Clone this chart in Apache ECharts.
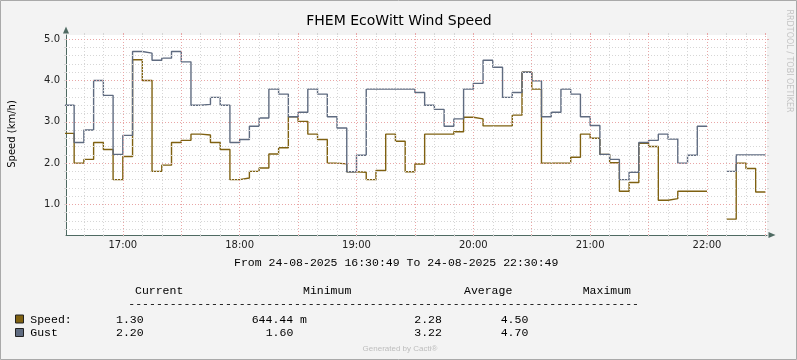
<!DOCTYPE html>
<html><head><meta charset="utf-8">
<script src="https://cdn.jsdelivr.net/npm/echarts@6/dist/echarts.min.js"></script>
<style>html,body{margin:0;padding:0;background:#f3f3f3}#c{width:797px;height:360px}</style>
</head><body><div id="c"></div>
<script>
// ---- data (5-minute intervals, value held over each interval) ----
const slotStarts = ["16:30","16:35","16:40","16:45","16:50","16:55","17:00","17:05","17:10","17:15","17:20","17:25",
  "17:30","17:35","17:40","17:45","17:50","17:55","18:00","18:05","18:10","18:15","18:20","18:25",
  "18:30","18:35","18:40","18:45","18:50","18:55","19:00","19:05","19:10","19:15","19:20","19:25",
  "19:30","19:35","19:40","19:45","19:50","19:55","20:00","20:05","20:10","20:15","20:20","20:25",
  "20:30","20:35","20:40","20:45","20:50","20:55","21:00","21:05","21:10","21:15","21:20","21:25",
  "21:30","21:35","21:40","21:45","21:50","21:55","22:00","22:05","22:10","22:15","22:20","22:25"];
const lastSlotEnd = "22:30";
const speed = [2.72,2.00,2.09,2.50,2.33,1.60,2.16,4.50,4.00,1.80,1.95,2.50,
  2.55,2.70,2.68,2.50,2.33,1.60,1.64,1.80,1.88,2.22,2.37,3.12,
  3.01,2.70,2.57,2.00,1.98,1.79,1.78,1.60,1.82,2.70,2.53,1.79,
  1.98,2.70,2.70,2.70,2.76,3.11,3.07,2.90,2.90,2.90,3.16,4.20,
  3.79,2.00,2.00,2.00,2.14,2.70,2.60,2.21,2.01,1.32,1.53,2.48,
  2.40,1.10,1.14,1.32,1.32,1.32,null,null,0.644,2.00,1.87,1.30];
const gust = [3.40,2.50,2.80,4.00,3.64,2.21,2.67,4.70,4.66,4.49,4.54,4.70,
  4.45,3.40,3.42,3.59,3.40,2.50,2.57,2.89,3.09,3.79,3.67,3.12,
  3.23,3.79,3.67,3.12,2.85,1.79,2.19,3.79,3.79,3.79,3.79,3.79,
  3.71,3.40,3.30,2.89,3.07,3.79,3.93,4.49,4.32,3.59,3.71,4.20,
  3.99,3.12,3.23,3.79,3.67,3.12,2.91,2.21,2.09,1.60,1.78,2.50,
  2.55,2.70,2.58,2.00,2.19,2.89,null,null,1.80,2.20,2.20,2.20];
const seriesNames = ["Speed:", "Gust"];
const xStart = "16:30:49", xEnd = "22:30:49";
const xTickLabels = ["17:00","18:00","19:00","20:00","21:00","22:00"];
const xMajorGrid = ["17:00","17:30","18:00","18:30","19:00","19:30","20:00","20:30","21:00","21:30","22:00","22:30"];
const xMinorGrid = ["16:40","16:50","17:00","17:10","17:20","17:30","17:40","17:50","18:00","18:10","18:20","18:30","18:40","18:50",
  "19:00","19:10","19:20","19:30","19:40","19:50","20:00","20:10","20:20","20:30","20:40","20:50","21:00","21:10","21:20","21:30",
  "21:40","21:50","22:00","22:10","22:20","22:30"];
const yTickLabels = ["1.0","2.0","3.0","4.0","5.0"];
const yMinorGrid = [0.4,0.6,0.8,1.0,1.2,1.4,1.6,1.8,2.0,2.2,2.4,2.6,2.8,3.0,3.2,3.4,3.6,3.8,4.0,4.2,4.4,4.6,4.8,5.0];
const yMin = 0.26, yMax = 5.1;
const legendHeader = ["Current","Minimum","Average","Maximum"];
const speedStats = ["1.30","644.44 m","2.28","4.50"];
const gustStats = ["2.20","1.60","3.22","4.70"];
const titleText = "FHEM EcoWitt Wind Speed";
const yAxisTitle = "Speed (km/h)";
const rangeText = "From 24-08-2025 16:30:49 To 24-08-2025 22:30:49";

// ---- helpers ----
function toMin(s){const p=s.split(':').map(Number);return p[0]*60+p[1]+(p[2]||0)/60;}
function stepData(vals){
  const out=[];
  for(let i=0;i<vals.length;i++){
    const t0=toMin(slotStarts[i]);
    const t1=toMin(i+1<slotStarts.length?slotStarts[i+1]:lastSlotEnd);
    if(vals[i]==null){out.push([t0,null]);continue;}
    out.push([t0,vals[i]]);out.push([t1,vals[i]]);
  }
  return out;
}
const C_SPEED="#7f6111", C_GUST="#5f6b80";
const C_AXIS="#4f6a62", C_MINOR="#d6d6d6", C_MAJOR="#e9a6a6";
const MONO='"Liberation Mono","DejaVu Sans Mono",monospace';
const SANS='"DejaVu Sans",sans-serif';
const xMin=toMin(xStart), xMax=toMin(xEnd);

function hiddenX(pos, vals, color){
  return {type:'value',min:xMin,max:xMax,position:pos,axisLine:{show:false},
    axisLabel:{show:false},splitLine:{show:false},
    axisTick:{show:true,customValues:vals.map(toMin),length:2,lineStyle:{color:color,width:1}}};
}
function hiddenY(pos, vals, color){
  return {type:'value',min:yMin,max:yMax,position:pos,axisLine:{show:false},
    axisLabel:{show:false},splitLine:{show:false},
    axisTick:{show:true,customValues:vals,length:2,lineStyle:{color:color,width:1}}};
}

const gridLines=[];
xMinorGrid.forEach(t=>gridLines.push({xAxis:toMin(t),lineStyle:{color:C_MINOR,type:[1,2],width:1}}));
yMinorGrid.forEach(v=>gridLines.push({yAxis:v,lineStyle:{color:C_MINOR,type:[1,2],width:1}}));
xMajorGrid.forEach(t=>gridLines.push({xAxis:toMin(t),lineStyle:{color:C_MAJOR,type:[1,2],width:1}}));
yTickLabels.forEach(l=>gridLines.push({yAxis:parseFloat(l),lineStyle:{color:C_MAJOR,type:[1,2],width:1}}));

const graphics=[];
function txt(x,y,text,font,fill,align,rot){
  graphics.push({type:'text',x:x,y:y,rotation:rot||0,silent:true,
    style:{text:text,font:font,fill:fill||'#000',textAlign:align||'left',textVerticalAlign:'middle'}});
}
// frame
graphics.push({type:'rect',shape:{x:0.5,y:0.5,width:796,height:359},style:{fill:null,stroke:'#a9a9a9',lineWidth:1},silent:true,z:-10});
txt(399,21,titleText,'14px '+SANS,'#000','center');
txt(12,134,yAxisTitle,'10px '+SANS,'#000','center',Math.PI/2);
txt(789,61,'RRDTOOL / TOBI OETIKER','8px '+SANS,'#c4c4c4','center',-Math.PI/2);
txt(234,263,rangeText,'11.5px '+MONO,'#000','left');
const hdrX=[135,303,464,582.7];
legendHeader.forEach((h,i)=>txt(hdrX[i],291,h,'11.5px '+MONO,'#000','left'));
txt(128.3,303.5,'-'.repeat(74),'11.5px '+MONO,'#000','left');
const rowY=[319.5,333];
const valX=[116,251.7,414.3,500.7];
const valX2=[116,265.7,414.3,500.7];
[[speedStats,C_SPEED],[gustStats,C_GUST]].forEach((r,k)=>{
  graphics.push({type:'rect',shape:{x:15.5,y:rowY[k]-4.5,width:8,height:8},style:{fill:r[1],stroke:'#222',lineWidth:1},silent:true});
  txt(30.3,rowY[k],seriesNames[k],'11.5px '+MONO,'#000','left');
  r[0].forEach((v,i)=>txt((k===0?valX:valX2)[i],rowY[k],v,'11.5px '+MONO,'#000','left'));
});
txt(400,349,'Generated by Cacti®','8px "Liberation Sans",sans-serif','#bdbdbd','center');

const option={
  animation:false,
  backgroundColor:'#f3f3f3',
  grid:{left:66,top:35,width:701,height:200,show:true,backgroundColor:'#ffffff',borderWidth:0},
  xAxis:[
    {type:'value',min:xMin,max:xMax,position:'bottom',
     axisLine:{show:true,lineStyle:{color:C_AXIS,width:1},symbol:['none','triangle'],symbolSize:[6,7],symbolOffset:[0,5]},
     axisTick:{show:true,customValues:xMajorGrid.map(toMin),length:2,lineStyle:{color:C_MAJOR}},
     axisLabel:{show:true,customValues:xTickLabels.map(toMin),
       formatter:v=>{const i=xTickLabels.map(toMin).findIndex(m=>Math.abs(m-v)<0.01);return i>=0?xTickLabels[i]:'';},
       fontFamily:'DejaVu Sans',fontSize:10,color:'#222',margin:5},
     splitLine:{show:false}},
    hiddenX('bottom',xMinorGrid,C_MINOR),
    hiddenX('top',xMinorGrid,C_MINOR),
    hiddenX('top',xMajorGrid,C_MAJOR)
  ],
  yAxis:[
    {type:'value',min:yMin,max:yMax,position:'left',
     axisLine:{show:true,lineStyle:{color:C_AXIS,width:1},symbol:['none','triangle'],symbolSize:[6,7],symbolOffset:[0,5]},
     axisTick:{show:true,customValues:yTickLabels.map(parseFloat),length:2,lineStyle:{color:C_MAJOR}},
     axisLabel:{show:true,customValues:yTickLabels.map(parseFloat),
       formatter:v=>{const i=yTickLabels.findIndex(l=>Math.abs(parseFloat(l)-v)<1e-6);return i>=0?yTickLabels[i]:'';},
       fontFamily:'DejaVu Sans',fontSize:10,color:'#222',margin:6},
     splitLine:{show:false}},
    hiddenY('left',yMinorGrid,C_MINOR),
    hiddenY('right',yMinorGrid,C_MINOR),
    hiddenY('right',yTickLabels.map(parseFloat),C_MAJOR)
  ],
  series:[
    {type:'line',name:'grid',data:[],xAxisIndex:0,yAxisIndex:0,z:1,silent:true,
     markLine:{silent:true,symbol:['none','none'],label:{show:false},animation:false,data:gridLines}},
    {type:'line',name:'Speed',data:stepData(speed),xAxisIndex:0,yAxisIndex:0,z:3,showSymbol:false,symbol:'none',
     lineStyle:{color:C_SPEED,width:1.4},connectNulls:false},
    {type:'line',name:'Gust',data:stepData(gust),xAxisIndex:0,yAxisIndex:0,z:3,showSymbol:false,symbol:'none',
     lineStyle:{color:C_GUST,width:1.4},connectNulls:false}
  ],
  graphic:graphics
};
const chart=echarts.init(document.getElementById('c'),null,{renderer:'canvas'});
chart.setOption(option);
</script></body></html>
